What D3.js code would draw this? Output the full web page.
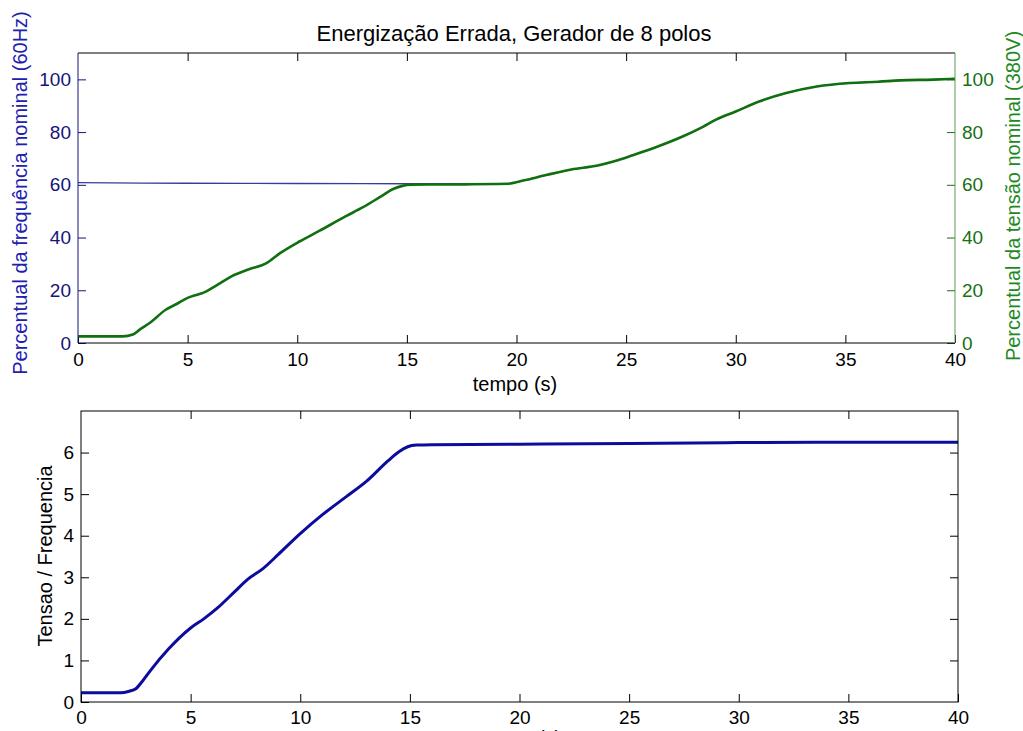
<!DOCTYPE html>
<html>
<head>
<meta charset="utf-8">
<script src="https://cdn.jsdelivr.net/npm/d3@7"></script>
<style>
  body { margin: 0; background: #fff; }
  svg { font-family: "Liberation Sans", Arial, sans-serif; }
</style>
</head>
<body>
<div id="chart"></div>
<script>
// tensao (% of 380V), top plot, green
const tensaoT = [0, 1, 2.05, 2.5, 2.8, 3.3, 4.0, 4.5, 5.0, 5.4, 5.7, 6.3, 7.0, 7.8, 8.6, 9.2, 10.1, 11.0, 12.2, 13.0, 13.8, 14.4, 14.8, 15.2, 16, 17, 18, 19, 19.6, 20.3, 21.4, 22.5, 23.7, 24.5, 25.3, 26.5, 27.6, 28.5, 29.1, 30.0, 31.1, 32.3, 33.7, 35.2, 36.5, 37.5, 39, 40];
const tensaoV = [2.5, 2.5, 2.5, 3.2, 5.0, 7.8, 12.6, 14.8, 17.1, 18.2, 19.0, 21.8, 25.3, 28.0, 30.3, 34.0, 38.5, 42.5, 48.0, 51.5, 55.5, 58.5, 59.6, 60.0, 60.1, 60.1, 60.2, 60.3, 60.4, 61.6, 63.8, 65.8, 67.3, 69.0, 71.2, 74.7, 78.4, 82.0, 84.7, 87.8, 91.7, 94.8, 97.3, 98.6, 99.1, 99.6, 99.9, 100.2];

// frequencia (% of 60Hz), top plot, blue
const freqT = [0, 5, 10, 15, 19.6, 20.3, 21.4, 22.5, 23.7, 24.5, 25.3, 26.5, 27.6, 28.5, 29.1, 30.0, 31.1, 32.3, 33.7, 35.2, 36.5, 37.5, 39, 40];
const freqV = [60.8, 60.6, 60.5, 60.4, 60.4, 61.6, 63.8, 65.8, 67.3, 69.0, 71.2, 74.7, 78.4, 82.0, 84.7, 87.8, 91.7, 94.8, 97.3, 98.6, 99.1, 99.6, 99.9, 100.2];

// tensao / frequencia, bottom plot
const ratioT = [0, 1, 1.8, 2.2, 2.5, 2.8, 3.2, 4.0, 4.5, 5.0, 5.6, 6.2, 7.0, 7.6, 8.3, 9.0, 10.0, 11.0, 12.1, 13.0, 14.0, 14.5, 14.9, 15.3, 16, 20, 25, 30, 35, 40];
const ratioV = [0.22, 0.22, 0.22, 0.26, 0.32, 0.5, 0.78, 1.28, 1.55, 1.78, 2.0, 2.25, 2.65, 2.95, 3.21, 3.55, 4.05, 4.5, 4.94, 5.3, 5.8, 6.02, 6.14, 6.18, 6.19, 6.2, 6.22, 6.24, 6.25, 6.25];

const xTicks = [0, 5, 10, 15, 20, 25, 30, 35, 40];
const pctTicks = [0, 20, 40, 60, 80, 100];
const ratioTicks = [0, 1, 2, 3, 4, 5, 6];

const width = 1023, height = 731;
const navy = '#14147a', green = '#157015';

const svg = d3.select('#chart').append('svg')
    .attr('width', width)
    .attr('height', height);

// ---- top plot ----
const p1 = { left: 78, right: 955, top: 53, bottom: 343 };
const x1 = d3.scaleLinear().domain([0, 40]).range([p1.left, p1.right]);
const yL = d3.scaleLinear().domain([0, 110]).range([p1.bottom, p1.top]);
const yR = d3.scaleLinear().domain([0, 110]).range([p1.bottom, p1.top]);

function styleAxis(g, color, textColor) {
    g.select('.domain').remove();
    g.selectAll('.tick line').attr('stroke', color);
    g.selectAll('.tick text').attr('fill', textColor).style('font-size', '19px');
}

svg.append('g')
    .attr('transform', `translate(0,${p1.bottom})`)
    .call(d3.axisBottom(x1).tickValues(xTicks).tickSizeInner(-8).tickSizeOuter(0).tickPadding(10))
    .call(g => styleAxis(g, '#000', '#000'));
svg.append('g')
    .attr('transform', `translate(0,${p1.top})`)
    .call(d3.axisTop(x1).tickValues(xTicks.slice(1, -1)).tickSizeInner(-8).tickSizeOuter(0).tickFormat(''))
    .call(g => styleAxis(g, '#000', '#000'));
svg.append('g')
    .attr('transform', `translate(${p1.left},0)`)
    .call(d3.axisLeft(yL).tickValues(pctTicks).tickSizeInner(-8).tickSizeOuter(0).tickPadding(7))
    .call(g => styleAxis(g, navy, navy));
svg.append('g')
    .attr('transform', `translate(${p1.right},0)`)
    .call(d3.axisRight(yR).tickValues(pctTicks).tickSizeInner(-8).tickSizeOuter(0).tickPadding(7))
    .call(g => styleAxis(g, green, green));

const lineF = d3.line().x((d, i) => x1(freqT[i])).y(d => yL(d)).curve(d3.curveMonotoneX);
const lineV = d3.line().x((d, i) => x1(tensaoT[i])).y(d => yR(d)).curve(d3.curveMonotoneX);

svg.append('path').datum(freqV)
    .attr('d', lineF).attr('fill', 'none')
    .attr('stroke', '#3a3a9c').attr('stroke-width', 1.3);
svg.append('path').datum(tensaoV)
    .attr('d', lineV).attr('fill', 'none')
    .attr('stroke', '#107010').attr('stroke-width', 2.6);

// box
svg.append('line').attr('x1', p1.left).attr('x2', p1.right).attr('y1', p1.top).attr('y2', p1.top).attr('stroke', '#000');
svg.append('line').attr('x1', p1.left).attr('x2', p1.right).attr('y1', p1.bottom).attr('y2', p1.bottom).attr('stroke', '#000');
svg.append('line').attr('x1', p1.left).attr('x2', p1.left).attr('y1', p1.top).attr('y2', p1.bottom).attr('stroke', navy);
svg.append('line').attr('x1', p1.right).attr('x2', p1.right).attr('y1', p1.top).attr('y2', p1.bottom).attr('stroke', '#5a9a5a');

svg.append('text')
    .attr('x', 514).attr('y', 41)
    .attr('text-anchor', 'middle')
    .style('font-size', '22px')
    .text('Energização Errada, Gerador de 8 polos');

svg.append('text')
    .attr('x', 515).attr('y', 391)
    .attr('text-anchor', 'middle')
    .style('font-size', '20px')
    .text('tempo (s)');

svg.append('text')
    .attr('transform', `translate(27,193) rotate(-90)`)
    .attr('text-anchor', 'middle')
    .attr('fill', '#2020b0')
    .style('font-size', '20px')
    .text('Percentual da frequência nominal (60Hz)');

svg.append('text')
    .attr('transform', `translate(1020,196) rotate(-90)`)
    .attr('text-anchor', 'middle')
    .attr('fill', '#1e8a1e')
    .style('font-size', '20px')
    .text('Percentual da tensão nominal (380V)');

// ---- bottom plot ----
const p2 = { left: 81, right: 958, top: 411, bottom: 702 };
const x2 = d3.scaleLinear().domain([0, 40]).range([p2.left, p2.right]);
const y2 = d3.scaleLinear().domain([0, 7]).range([p2.bottom, p2.top]);

svg.append('g')
    .attr('transform', `translate(0,${p2.bottom})`)
    .call(d3.axisBottom(x2).tickValues(xTicks).tickSizeInner(-8).tickSizeOuter(0).tickPadding(9))
    .call(g => styleAxis(g, '#000', '#000'));
svg.append('g')
    .attr('transform', `translate(0,${p2.top})`)
    .call(d3.axisTop(x2).tickValues(xTicks.slice(1, -1)).tickSizeInner(-8).tickSizeOuter(0).tickFormat(''))
    .call(g => styleAxis(g, '#000', '#000'));
svg.append('g')
    .attr('transform', `translate(${p2.left},0)`)
    .call(d3.axisLeft(y2).tickValues(ratioTicks).tickFormat(d3.format('d')).tickSizeInner(-8).tickSizeOuter(0).tickPadding(7))
    .call(g => styleAxis(g, '#000', '#000'));
svg.append('g')
    .attr('transform', `translate(${p2.right},0)`)
    .call(d3.axisRight(y2).tickValues(ratioTicks.slice(1)).tickSizeInner(-8).tickSizeOuter(0).tickFormat(''))
    .call(g => styleAxis(g, '#000', '#000'));

const lineR = d3.line().x((d, i) => x2(ratioT[i])).y(d => y2(d)).curve(d3.curveMonotoneX);
svg.append('path').datum(ratioV)
    .attr('d', lineR).attr('fill', 'none')
    .attr('stroke', '#0c0c9c').attr('stroke-width', 3);

svg.append('rect')
    .attr('x', p2.left).attr('y', p2.top)
    .attr('width', p2.right - p2.left).attr('height', p2.bottom - p2.top)
    .attr('fill', 'none').attr('stroke', '#000');

svg.append('text')
    .attr('transform', `translate(52,556) rotate(-90)`)
    .attr('text-anchor', 'middle')
    .style('font-size', '20px')
    .text('Tensao / Frequencia');

// x label of the lower plot sits at the bottom edge, as in the original figure
svg.append('text')
    .attr('x', 519).attr('y', 745)
    .attr('text-anchor', 'middle')
    .style('font-size', '20px')
    .text('tempo (s)');
</script>
</body>
</html>
